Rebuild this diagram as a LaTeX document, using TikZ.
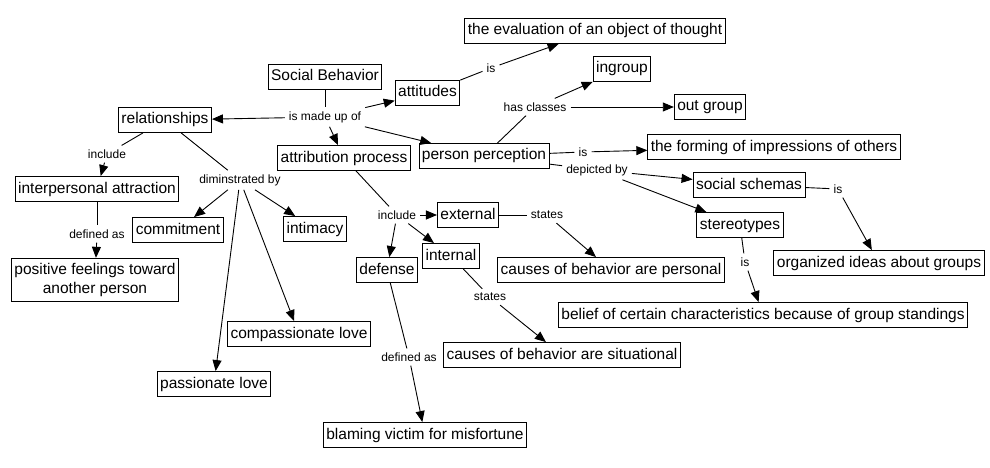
\documentclass[tikz,border=0pt]{standalone}
\usepackage{fontspec}
\setmainfont{Liberation Sans}
\usetikzlibrary{arrows.meta}
\begin{document}
\begin{tikzpicture}[x=1pt,y=-1pt,
  concept/.style={draw,line width=0.9pt,font=\fontsize{15.5}{18}\selectfont,inner xsep=3pt,inner ysep=5pt,text height=11.5pt,text depth=3.5pt},
  twoline/.style={draw,line width=0.9pt,font=\fontsize{15.5}{19}\selectfont,align=center,inner xsep=3pt,inner ysep=5pt},
  linking/.style={font=\fontsize{12}{14}\selectfont,inner sep=4pt},
  conn/.style={line width=0.9pt},
  toward/.style={line width=0.9pt,-{Triangle[length=11pt,width=9pt]}}]
\useasboundingbox[fill=white] (0,0) rectangle (990,468);
\node[concept] (social) at (325,77){Social Behavior};
\node[concept] (attitudes) at (427.5,93){attitudes};
\node[concept] (evaluation) at (595,31){the evaluation of an object of thought};
\node[concept] (ingroup) at (622,69){ingroup};
\node[concept] (outgroup) at (710,107){out group};
\node[concept] (relationships) at (165,120){relationships};
\node[concept] (attribution) at (344,158){attribution process};
\node[concept] (perception) at (484,156){person perception};
\node[concept] (forming) at (774,147){the forming of impressions of others};
\node[concept] (schemas) at (749,185){social schemas};
\node[concept] (stereotypes) at (740,225){stereotypes};
\node[concept] (interpersonal) at (97,189){interpersonal attraction};
\node[twoline] (positive) at (95,280){positive feelings toward\\another person};
\node[concept] (commitment) at (178,230){commitment};
\node[concept] (intimacy) at (315,229){intimacy};
\node[concept] (compassionate) at (299,334){compassionate love};
\node[concept] (passionate) at (214,384){passionate love};
\node[concept] (external) at (468,215){external};
\node[concept] (internal) at (451,256){internal};
\node[concept] (defense) at (387,270){defense};
\node[concept] (personal) at (611,270){causes of behavior are personal};
\node[concept] (situational) at (562,355){causes of behavior are situational};
\node[concept] (blaming) at (425,435){blaming victim for misfortune};
\node[concept] (belief) at (763,315){belief of certain characteristics because of group standings};
\node[concept] (organized) at (879,263){organized ideas about groups};
\node[linking] (madeup) at (325,117){is made up of};
\node[linking] (isa) at (491,68){is};
\node[linking] (classes) at (535,107){has classes};
\node[linking] (isb) at (583,152){is};
\node[linking] (depicted) at (597,170){depicted by};
\node[linking] (isc) at (838,189){is};
\node[linking] (isd) at (745,262){is};
\node[linking] (includer) at (107,154){include};
\node[linking] (definedr) at (97,234){defined as};
\node[linking] (dimin) at (240,180){diminstrated by};
\node[linking] (includea) at (397,215){include};
\node[linking] (statese) at (547,215){states};
\node[linking] (statesi) at (490,297){states};
\node[linking] (definedd) at (409,357){defined as};
\draw[conn] (social) -- (madeup);
\draw[toward] (madeup) -- (relationships);
\draw[toward] (madeup) -- (attitudes);
\draw[toward] (madeup) -- (attribution);
\draw[toward] (madeup) -- (perception);
\draw[conn] (attitudes) -- (isa);
\draw[toward] (isa) -- (evaluation);
\draw[conn] (perception) -- (classes);
\draw[toward] (classes) -- (ingroup);
\draw[toward] (classes) -- (outgroup);
\draw[conn] (perception) -- (isb);
\draw[toward] (isb) -- (forming);
\draw[conn] (perception) -- (depicted);
\draw[toward] (depicted) -- (schemas);
\draw[toward] (depicted) -- (stereotypes);
\draw[conn] (schemas) -- (isc);
\draw[toward] (isc) -- (organized);
\draw[conn] (stereotypes) -- (isd);
\draw[toward] (isd) -- (belief);
\draw[conn] (relationships) -- (includer);
\draw[toward] (includer) -- (interpersonal);
\draw[conn] (interpersonal) -- (definedr);
\draw[toward] (definedr) -- (positive);
\draw[conn] (relationships) -- (dimin);
\draw[toward] (dimin) -- (commitment);
\draw[toward] (dimin) -- (intimacy);
\draw[toward] (dimin) -- (passionate);
\draw[toward] (dimin) -- (compassionate);
\draw[conn] (attribution) -- (includea);
\draw[toward] (includea) -- (external);
\draw[toward] (includea) -- (internal);
\draw[toward] (includea) -- (defense);
\draw[conn] (external) -- (statese);
\draw[toward] (statese) -- (personal);
\draw[conn] (internal) -- (statesi);
\draw[toward] (statesi) -- (situational);
\draw[conn] (defense) -- (definedd);
\draw[toward] (definedd) -- (blaming);
\end{tikzpicture}
\end{document}
